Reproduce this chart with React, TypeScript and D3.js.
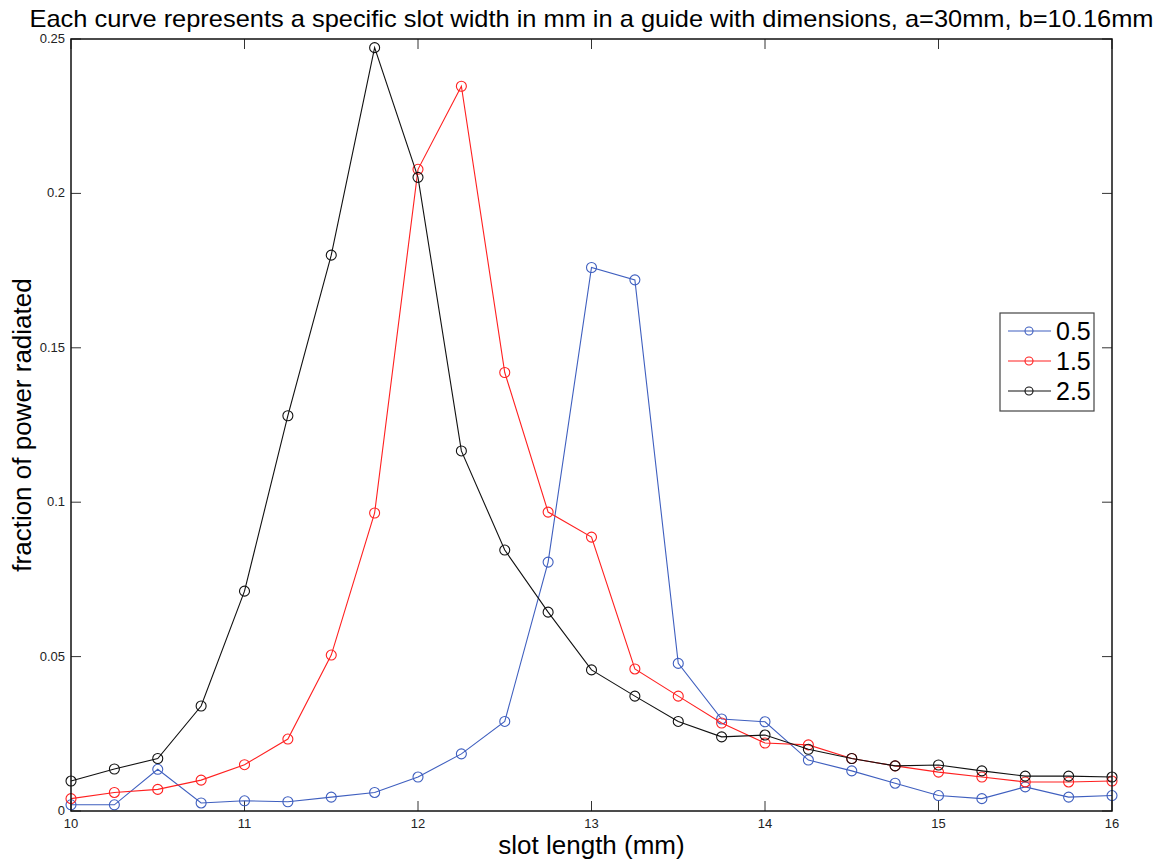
import React from 'react';
import * as d3 from 'd3';

const slotLengths = [10, 10.25, 10.5, 10.75, 11, 11.25, 11.5, 11.75, 12, 12.25, 12.5, 12.75, 13,
  13.25, 13.5, 13.75, 14, 14.25, 14.5, 14.75, 15, 15.25, 15.5, 15.75, 16];

const width05 = [0.002, 0.002, 0.0135, 0.0026, 0.0033, 0.003, 0.0045, 0.006, 0.011, 0.0185, 0.029, 0.0806, 0.176,
  0.172, 0.0478, 0.0298, 0.0289, 0.0165, 0.013, 0.009, 0.005, 0.004, 0.0078, 0.0045, 0.005];
const width15 = [0.004, 0.006, 0.007, 0.010, 0.015, 0.0233, 0.0505, 0.0965, 0.2078, 0.2347, 0.142, 0.0968, 0.0887,
  0.046, 0.0372, 0.0285, 0.022, 0.0214, 0.017, 0.0146, 0.0126, 0.011, 0.0094, 0.0094, 0.0097];
const width25 = [0.0097, 0.0136, 0.017, 0.034, 0.0712, 0.128, 0.18, 0.2472, 0.2052, 0.1166, 0.0845, 0.0644, 0.0457,
  0.0372, 0.029, 0.024, 0.0246, 0.020, 0.017, 0.0146, 0.0149, 0.013, 0.0113, 0.0113, 0.011];

const seriesNames = ['0.5', '1.5', '2.5'];
const seriesColors = ['#3f5fbf', '#ff2020', '#111111'];
const xTicks = [10, 11, 12, 13, 14, 15, 16];
const yTicks = [0, 0.05, 0.1, 0.15, 0.2, 0.25];
const yTickLabels = ['0', '0.05', '0.1', '0.15', '0.2', '0.25'];

const W = 1165;
const H = 863;
const left = 71, right = 1112, top = 39, bottom = 811;
const font = 'Liberation Sans, Arial, sans-serif';

export default function App() {
  const x = d3.scaleLinear().domain([10, 16]).range([left, right]);
  const y = d3.scaleLinear().domain([0, 0.25]).range([bottom, top]);
  const all = [width05, width15, width25];
  const line = d3.line<number>().x((_, i) => x(slotLengths[i])).y(d => y(d));
  const tk = 10;

  return (
    <svg width={W} height={H} style={{ position: 'absolute', left: 0, top: 0, background: '#fff' }}>
      <rect x={0} y={0} width={W} height={H} fill="#fff" />
      <text x={(left + right) / 2} y={27} textAnchor="middle" fontFamily={font} fontSize={24}
        textLength={1124} lengthAdjust="spacingAndGlyphs">
        Each curve represents a specific slot width in mm in a guide with dimensions, a=30mm, b=10.16mm
      </text>

      {/* ticks */}
      {xTicks.map(t => (
        <g key={'x' + t}>
          <line x1={x(t)} x2={x(t)} y1={bottom} y2={bottom - tk} stroke="#333" />
          <line x1={x(t)} x2={x(t)} y1={top} y2={top + tk} stroke="#333" />
          <text x={x(t)} y={bottom + 17} textAnchor="middle" fontFamily={font} fontSize={13} fill="#222">{t}</text>
        </g>
      ))}
      {yTicks.map((t, i) => (
        <g key={'y' + t}>
          <line x1={left} x2={left + tk} y1={y(t)} y2={y(t)} stroke="#333" />
          <line x1={right} x2={right - tk} y1={y(t)} y2={y(t)} stroke="#333" />
          <text x={left - 6} y={y(t) + 4} textAnchor="end" fontFamily={font} fontSize={13} fill="#222">{yTickLabels[i]}</text>
        </g>
      ))}

      {/* series */}
      {all.map((vals, s) => (
        <g key={'s' + s}>
          <path d={line(vals) || ''} fill="none" stroke={seriesColors[s]} strokeWidth={1.1} />
          {vals.map((v, i) => (
            <circle key={i} cx={x(slotLengths[i])} cy={y(v)} r={5} fill="none" stroke={seriesColors[s]} strokeWidth={1.1} />
          ))}
        </g>
      ))}

      {/* box */}
      <rect x={left} y={top} width={right - left} height={bottom - top} fill="none" stroke="#111" strokeWidth={1.5} />

      {/* axis labels */}
      <text x={(left + right) / 2} y={854} textAnchor="middle" fontFamily={font} fontSize={26}>slot length (mm)</text>
      <text transform={`translate(31, ${(top + bottom) / 2}) rotate(-90)`} textAnchor="middle" fontFamily={font} fontSize={26}>
        fraction of power radiated
      </text>

      {/* legend */}
      <rect x={1000} y={313} width={94} height={98} fill="#fff" stroke="#444" strokeWidth={1.2} />
      {seriesNames.map((n, i) => {
        const ly = 331 + i * 30;
        return (
          <g key={'l' + n}>
            <line x1={1008} x2={1051} y1={ly} y2={ly} stroke={seriesColors[i]} strokeWidth={1.1} />
            <circle cx={1029} cy={ly} r={4} fill="none" stroke={seriesColors[i]} strokeWidth={1.1} />
            <text x={1056} y={ly + 9} fontFamily={font} fontSize={25}>{n}</text>
          </g>
        );
      })}
    </svg>
  );
}
